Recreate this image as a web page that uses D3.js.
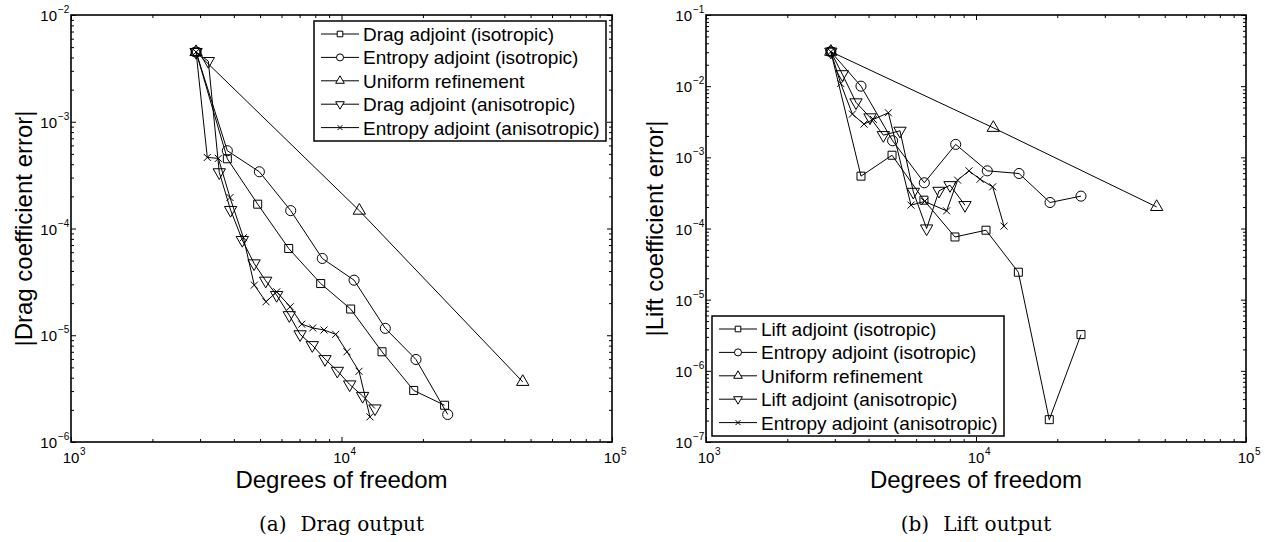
<!DOCTYPE html>
<html>
<head>
<meta charset="utf-8">
<script src="https://cdnjs.cloudflare.com/ajax/libs/d3/7.8.5/d3.min.js"></script>
<style>
  body { margin: 0; background: #fff; }
  svg text { font-family: "Liberation Sans", Arial, sans-serif; fill: #000; }
  .caption { font-family: "DejaVu Serif", "Liberation Serif", serif; }
</style>
</head>
<body>
<div id="chart"></div>
<script>
// ---- data ----
// (a) drag output
const dragIsoDof = [2900, 3784, 4900, 6380, 8377, 10810, 14120, 18490, 24050];
const dragIsoErr = [4.5e-3, 4.5e-4, 1.69e-4, 6.5e-5, 3.05e-5, 1.76e-5, 7.0e-6, 3.04e-6, 2.21e-6];
const dragEntIsoDof = [2900, 3784, 4970, 6490, 8490, 11130, 14520, 18850, 24700];
const dragEntIsoErr = [4.5e-3, 5.35e-4, 3.4e-4, 1.47e-4, 5.24e-5, 3.28e-5, 1.16e-5, 5.93e-6, 1.81e-6];
const dragUniDof = [2900, 11640, 46770];
const dragUniErr = [4.5e-3, 1.47e-4, 3.66e-6];
const dragAniDof = [2900, 3218, 3533, 3890, 4298, 4751, 5245, 5757, 6412, 7030, 7800, 8690, 9650, 10720, 11970, 13300];
const dragAniErr = [4.5e-3, 3.7e-3, 3.36e-4, 1.49e-4, 7.8e-5, 4.71e-5, 3.24e-5, 2.38e-5, 1.54e-5, 1.02e-5, 8.07e-6, 5.97e-6, 4.64e-6, 3.46e-6, 2.70e-6, 2.06e-6];
const dragEntAniDof = [2900, 3191, 3506, 3871, 4339, 4760, 5260, 5760, 6460, 7130, 7830, 8620, 9520, 10480, 11610, 12740];
const dragEntAniErr = [4.5e-3, 4.63e-4, 4.54e-4, 1.95e-4, 8.2e-5, 2.95e-5, 2.06e-5, 2.55e-5, 1.85e-5, 1.27e-5, 1.17e-5, 1.12e-5, 1.02e-5, 7.0e-6, 4.6e-6, 1.72e-6];

// (b) lift output
const liftIsoDof = [2900, 3750, 4887, 6415, 8357, 10890, 14350, 18680, 24480];
const liftIsoErr = [3.05e-2, 5.44e-4, 1.07e-3, 2.5e-4, 7.6e-5, 9.46e-5, 2.43e-5, 2.06e-7, 3.23e-6];
const liftEntIsoDof = [2900, 3750, 4910, 6435, 8410, 11010, 14430, 18800, 24480];
const liftEntIsoErr = [3.05e-2, 1.0e-2, 1.71e-3, 4.39e-4, 1.52e-3, 6.46e-4, 5.93e-4, 2.32e-4, 2.85e-4];
const liftUniDof = [2900, 11590, 46680];
const liftUniErr = [3.05e-2, 2.6e-3, 2.01e-4];
const liftAniDof = [2900, 3199, 3594, 4050, 4537, 5229, 5860, 6563, 7295, 8013, 9100];
const liftAniErr = [3.05e-2, 1.47e-2, 5.92e-3, 3.64e-3, 2.05e-3, 2.36e-3, 3.27e-4, 1.0e-4, 3.38e-4, 4.06e-4, 2.13e-4];
const liftEntAniDof = [2900, 3155, 3484, 3848, 4168, 4736, 5745, 6450, 7785, 8550, 9420, 10350, 11530, 12700];
const liftEntAniErr = [3.05e-2, 1.09e-2, 4.05e-3, 2.93e-3, 3.41e-3, 4.23e-3, 2.13e-4, 2.4e-4, 1.77e-4, 4.78e-4, 6.46e-4, 4.93e-4, 3.85e-4, 1.08e-4];

const dragLabels = ["Drag adjoint (isotropic)", "Entropy adjoint (isotropic)", "Uniform refinement",
                    "Drag adjoint (anisotropic)", "Entropy adjoint (anisotropic)"];
const liftLabels = ["Lift adjoint (isotropic)", "Entropy adjoint (isotropic)", "Uniform refinement",
                    "Lift adjoint (anisotropic)", "Entropy adjoint (anisotropic)"];
const markerKinds = ["square", "circle", "triUp", "triDown", "cross"];

const xDecades = [3, 4, 5];
const dragDecades = [-6, -5, -4, -3, -2];
const liftDecades = [-7, -6, -5, -4, -3, -2, -1];

// ---- layout ----
const W = 1265, H = 542;

const svg = d3.select("#chart").append("svg")
  .attr("width", W)
  .attr("height", H);

const zip = (xs, ys) => xs.map((d, i) => [d, ys[i]]);

const markerPath = (kind, big) => {
  const k = big ? 1 : 0.7;
  if (kind === "square") return d3.symbol(d3.symbolSquare, 64 * k * k)();
  if (kind === "circle") return d3.symbol(d3.symbolCircle, 80 * k * k)();
  if (kind === "triUp" || kind === "triDown") return d3.symbol(d3.symbolTriangle, 66 * k * k)();
  const r = 3.5 * k;
  return `M${-r},${-r}L${r},${r}M${-r},${r}L${r},${-r}`;
};

const minorOf = (decades) => {
  const out = [];
  decades.slice(0, -1).forEach((e) => {
    for (let m = 2; m <= 9; m++) out.push(m * Math.pow(10, e));
  });
  return out;
};

const drawPanel = (cfg) => {
  const g = svg.append("g");
  const xScale = d3.scaleLog().domain([1e3, 1e5]).range([cfg.left, cfg.right]);
  const yScale = d3.scaleLog()
    .domain([Math.pow(10, cfg.decades[0]), Math.pow(10, cfg.decades[cfg.decades.length - 1])])
    .range([cfg.bottom, cfg.top]);

  const xMajor = xDecades.map((e) => Math.pow(10, e));
  const xMinor = minorOf(xDecades);
  const yMajor = cfg.decades.map((e) => Math.pow(10, e));
  const yMinor = minorOf(cfg.decades);

  const addTicks = (axis, vals, len, tr) => {
    g.append("g")
      .attr("transform", tr)
      .call(axis.tickValues(vals).tickSizeInner(-len).tickSizeOuter(0).tickFormat(""))
      .call((a) => a.select(".domain").remove())
      .call((a) => a.selectAll("line").attr("stroke", "#000").attr("stroke-width", 1));
  };
  addTicks(d3.axisBottom(xScale), xMinor, 3, `translate(0,${cfg.bottom})`);
  addTicks(d3.axisBottom(xScale), xMajor, 5, `translate(0,${cfg.bottom})`);
  addTicks(d3.axisTop(xScale), xMinor, 3, `translate(0,${cfg.top})`);
  addTicks(d3.axisTop(xScale), xMajor, 5, `translate(0,${cfg.top})`);
  addTicks(d3.axisLeft(yScale), yMinor, 3, `translate(${cfg.left},0)`);
  addTicks(d3.axisLeft(yScale), yMajor, 5, `translate(${cfg.left},0)`);
  addTicks(d3.axisRight(yScale), yMinor, 3, `translate(${cfg.right},0)`);
  addTicks(d3.axisRight(yScale), yMajor, 5, `translate(${cfg.right},0)`);

  g.append("rect")
    .attr("x", cfg.left).attr("y", cfg.top)
    .attr("width", cfg.right - cfg.left).attr("height", cfg.bottom - cfg.top)
    .attr("fill", "none").attr("stroke", "#000").attr("stroke-width", 1.6);

  // tick labels 10^n
  xDecades.forEach((e) => {
    const px = xScale(Math.pow(10, e));
    g.append("text").attr("x", px).attr("y", cfg.bottom + 21)
      .attr("text-anchor", "middle").style("font-size", "15px").text("10");
    g.append("text").attr("x", px + 9).attr("y", cfg.bottom + 13)
      .style("font-size", "10px").text(e);
  });
  cfg.decades.forEach((e) => {
    const py = yScale(Math.pow(10, e));
    g.append("text").attr("x", cfg.left - 14).attr("y", py + 6)
      .attr("text-anchor", "end").style("font-size", "15px").text("10");
    g.append("text").attr("x", cfg.left - 13).attr("y", py - 2)
      .style("font-size", "10px").text("\u2212" + Math.abs(e));
  });

  const line = d3.line()
    .x((d) => xScale(d[0]))
    .y((d) => yScale(d[1]));

  cfg.series.forEach((s, i) => {
    const pts = zip(s.dof, s.err);
    g.append("path")
      .attr("d", line(pts))
      .attr("fill", "none")
      .attr("stroke", "#000")
      .attr("stroke-width", 1);
    g.selectAll(null)
      .data(pts)
      .enter().append("path")
      .attr("d", markerPath(markerKinds[i], true))
      .attr("transform", (d) => `translate(${xScale(d[0])},${yScale(d[1])})` + (markerKinds[i] === "triDown" ? " rotate(180)" : ""))
      .attr("fill", "none")
      .attr("stroke", "#000")
      .attr("stroke-width", 1);
  });

  // legend
  const lg = g.append("g").attr("transform", `translate(${cfg.legend[0]},${cfg.legend[1]})`);
  lg.append("rect")
    .attr("width", 292).attr("height", 120)
    .attr("fill", "#fff").attr("stroke", "#000").attr("stroke-width", 1.5);
  cfg.labels.forEach((lab, i) => {
    const ly = 13 + i * 23.4;
    lg.append("line").attr("x1", 7).attr("x2", 45).attr("y1", ly).attr("y2", ly)
      .attr("stroke", "#000").attr("stroke-width", 1);
    lg.append("path")
      .attr("d", markerPath(markerKinds[i], false))
      .attr("transform", `translate(26,${ly})` + (markerKinds[i] === "triDown" ? " rotate(180)" : ""))
      .attr("fill", "#fff").attr("stroke", "#000").attr("stroke-width", 1);
    lg.append("text").attr("x", 49).attr("y", ly + 7)
      .style("font-size", "19px").text(lab);
  });

  // axis titles
  const cx = (cfg.left + cfg.right) / 2;
  const cy = (cfg.top + cfg.bottom) / 2;
  g.append("text").attr("x", cx).attr("y", 488)
    .attr("text-anchor", "middle").style("font-size", "24px").text("Degrees of freedom");
  g.append("text")
    .attr("transform", `translate(${cfg.ylabelX},${cy}) rotate(-90)`)
    .attr("text-anchor", "middle").style("font-size", "24px").text(cfg.ylabel);

  const cap = g.append("text").attr("class", "caption")
    .attr("x", cx).attr("y", 531)
    .attr("text-anchor", "middle").style("font-size", "20px");
  cap.append("tspan").text(cfg.tag);
  cap.append("tspan").attr("dx", 14).text(cfg.caption);
};

drawPanel({
  left: 71, right: 612, top: 15, bottom: 442,
  decades: dragDecades,
  legend: [314, 21],
  labels: dragLabels,
  ylabel: "|Drag coefficient error|", ylabelX: 32,
  tag: "(a)", caption: "Drag output",
  series: [
    {dof: dragIsoDof, err: dragIsoErr},
    {dof: dragEntIsoDof, err: dragEntIsoErr},
    {dof: dragUniDof, err: dragUniErr},
    {dof: dragAniDof, err: dragAniErr},
    {dof: dragEntAniDof, err: dragEntAniErr}
  ]
});

drawPanel({
  left: 706, right: 1246, top: 15, bottom: 442,
  decades: liftDecades,
  legend: [712, 316],
  labels: liftLabels,
  ylabel: "|Lift coefficient error|", ylabelX: 663,
  tag: "(b)", caption: "Lift output",
  series: [
    {dof: liftIsoDof, err: liftIsoErr},
    {dof: liftEntIsoDof, err: liftEntIsoErr},
    {dof: liftUniDof, err: liftUniErr},
    {dof: liftAniDof, err: liftAniErr},
    {dof: liftEntAniDof, err: liftEntAniErr}
  ]
});
</script>
</body>
</html>
